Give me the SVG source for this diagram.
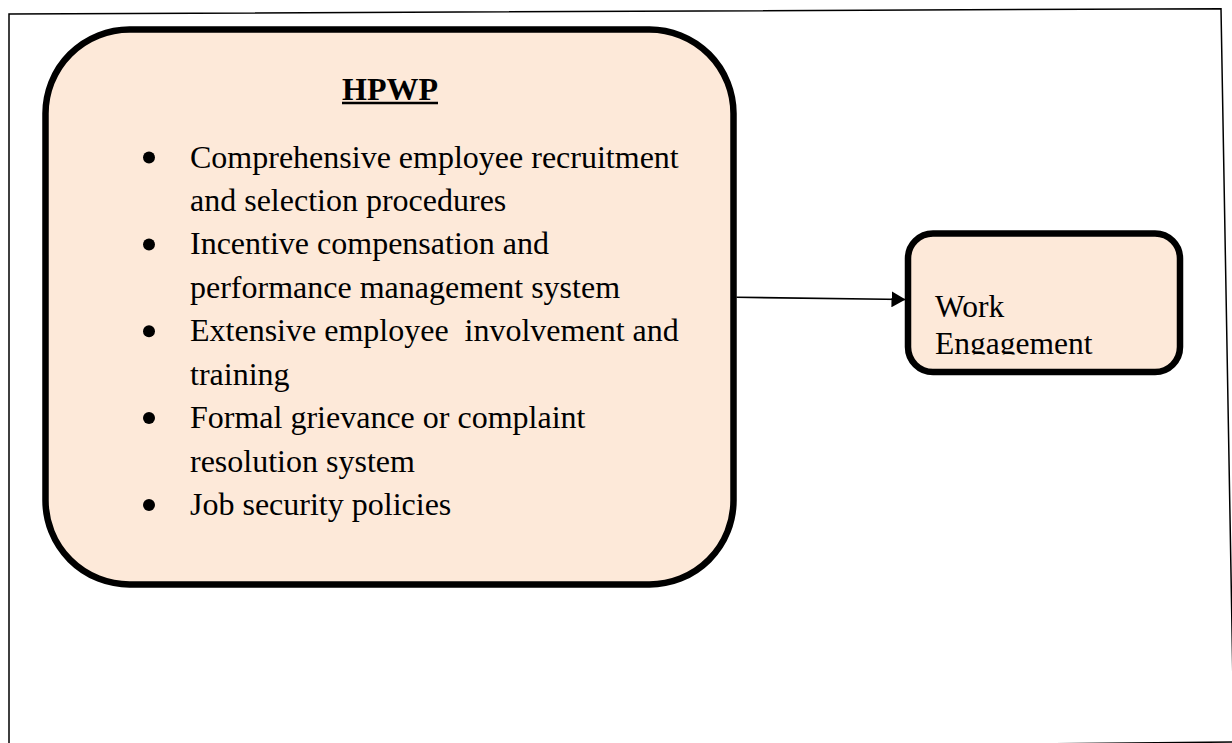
<svg xmlns="http://www.w3.org/2000/svg" width="1232" height="743" viewBox="0 0 1232 743">
  <style>
    .box { fill: #FDE9D9; stroke: #000; stroke-width: 6.5; }
    .txt { font-family: "Liberation Serif", "Times New Roman", serif; font-size: 32px; fill: #000; }
    .title { font-family: "Liberation Serif", "Times New Roman", serif; font-size: 32px; font-weight: bold; fill: #000; }
    .bullet { fill: #000; }
    .conn { stroke: #000; stroke-width: 1.6; fill: none; }
  </style>
  <defs>
    <marker id="arrow" viewBox="0 0 14 16" refX="13.5" refY="8" markerWidth="14" markerHeight="16" markerUnits="userSpaceOnUse" orient="auto">
      <path d="M0,0 L14,8 L0,16 Z" fill="#000"/>
    </marker>
    <clipPath id="weClip">
      <rect x="910" y="236" width="268" height="118.5"/>
    </clipPath>
  </defs>
  <rect width="1232" height="743" fill="#fff"/>
  <g id="frame">
    <path d="M9,754 L9,14 L1221,8.7 L1234,742 Z" fill="none" stroke="#000" stroke-width="1.5"/>
  </g>
  <g id="hpwp">
    <rect class="box" x="45.5" y="29.5" width="688" height="555" rx="84" ry="84"/>
    <text class="title" x="390" y="99.5" text-anchor="middle">HPWP</text>
    <line x1="342" y1="103" x2="438" y2="103" stroke="#000" stroke-width="2.6"/>
    <circle class="bullet" cx="149" cy="157.5" r="6"/>
    <circle class="bullet" cx="149" cy="244.4" r="6"/>
    <circle class="bullet" cx="149" cy="331.2" r="6"/>
    <circle class="bullet" cx="149" cy="418.1" r="6"/>
    <circle class="bullet" cx="149" cy="505" r="6"/>
    <text class="txt" x="190" y="167.5">Comprehensive employee recruitment</text>
    <text class="txt" x="190" y="210.9">and selection procedures</text>
    <text class="txt" x="190" y="254.4">Incentive compensation and</text>
    <text class="txt" x="190" y="297.8">performance management system</text>
    <text class="txt" x="190" y="341.2" xml:space="preserve">Extensive employee  involvement and</text>
    <text class="txt" x="190" y="384.7">training</text>
    <text class="txt" x="190" y="428.1">Formal grievance or complaint</text>
    <text class="txt" x="190" y="471.5">resolution system</text>
    <text class="txt" x="190" y="515">Job security policies</text>
  </g>
  <g id="work-engagement">
    <rect class="box" x="908" y="233.5" width="272" height="138.5" rx="25" ry="25"/>
    <g clip-path="url(#weClip)">
      <text class="txt" x="935" y="317.3" style="font-size:31.5px">Work</text>
      <text class="txt" x="935" y="353.5" style="font-size:31.5px">Engagement</text>
    </g>
  </g>
  <g id="connectors">
    <path class="conn" d="M736.5,297.3 L905,299.5" marker-end="url(#arrow)"/>
  </g>
</svg>
